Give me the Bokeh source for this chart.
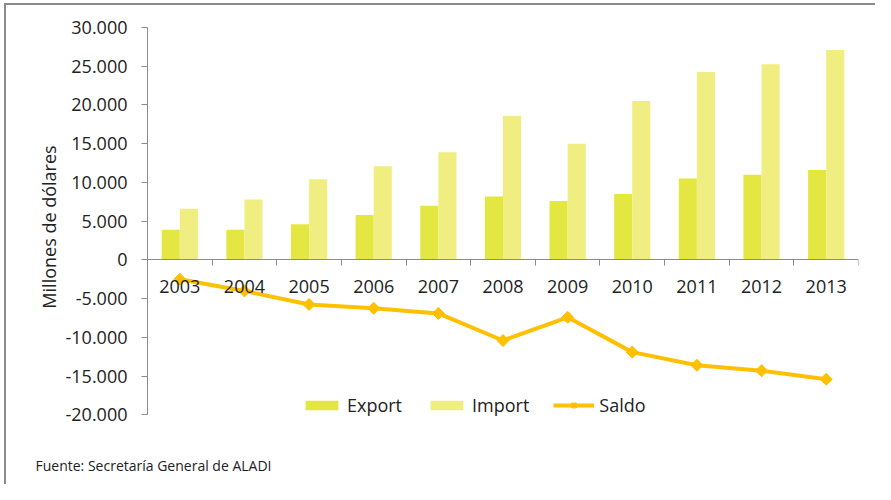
import numpy as np
from bokeh.plotting import figure
from bokeh.models import (Range1d, LinearAxis, FixedTicker, CustomJSTickFormatter,
                          Legend, LegendItem, Title, ColumnDataSource)
from bokeh.transform import dodge
from bokeh.embed import file_html
from bokeh.resources import INLINE

years = ["2003", "2004", "2005", "2006", "2007", "2008", "2009", "2010", "2011", "2012", "2013"]
export = [3900, 3900, 4600, 5800, 7000, 8200, 7600, 8500, 10500, 11000, 11600]
imports = [6600, 7800, 10400, 12100, 13900, 18600, 15000, 20500, 24250, 25250, 27100]
saldo = [-2500, -4000, -5750, -6250, -6900, -10400, -7400, -11900, -13600, -14300, -15400]
y_ticks = [-20000, -15000, -10000, -5000, 0, 5000, 10000, 15000, 20000, 25000, 30000]

FONT = "Open Sans"
TXT = "#222222"
AX = "#8c8c8c"
FS = "18px"

src = ColumnDataSource(dict(x=np.arange(len(years)) + 0.5, year=years,
                            export=export, imports=imports, saldo=saldo))

p = figure(width=875, height=484, x_range=Range1d(0, len(years)),
           y_range=Range1d(-21500, 30000), output_backend="svg",
           toolbar_location=None, x_axis_location=None, y_axis_location="left",
           min_border_left=147, min_border_right=17, min_border_top=27,
           min_border_bottom=58)
p.styles = {"background": "linear-gradient(#8c8c8c, #8c8c8c) 4px 3px / 2px 100% no-repeat, "
                          "linear-gradient(#8c8c8c, #8c8c8c) 4px 3px / 100% 2px no-repeat, #ffffff"}
p.border_fill_alpha = 0
p.outline_line_color = None
p.background_fill_color = "white"

yax = p.yaxis[0]
yax.ticker = FixedTicker(ticks=y_ticks)
yax.bounds = (-20000, 30000)
yax.formatter = CustomJSTickFormatter(code="""
const s = Math.abs(tick).toFixed(0).replace(/\\B(?=(\\d{3})+(?!\\d))/g, '.');
return (tick < 0 ? '-' : '') + s;
""")
yax.axis_line_color = AX
yax.major_tick_line_color = AX
yax.major_tick_out = 6
yax.major_tick_in = 0
yax.minor_tick_line_color = None
yax.major_label_text_font = FONT
yax.major_label_text_font_size = FS
yax.major_label_text_color = TXT
yax.major_label_standoff = 14
yax.axis_label = "Millones de dólares"
yax.axis_label_text_font = FONT
yax.axis_label_text_font_size = FS
yax.axis_label_text_font_style = "normal"
yax.axis_label_text_color = TXT
yax.axis_label_standoff = 2

# x axis line with boundary ticks at y = 0
xax1 = LinearAxis(fixed_location=0, ticker=FixedTicker(ticks=list(range(len(years) + 1))),
                  major_label_overrides={i: "" for i in range(len(years) + 1)},
                  axis_line_color=AX, major_tick_line_color=AX,
                  major_tick_out=6, major_tick_in=0, minor_tick_line_color=None)
p.add_layout(xax1, "below")
# category labels
centers = [i + 0.5 for i in range(len(years))]
xax2 = LinearAxis(fixed_location=0, ticker=FixedTicker(ticks=centers),
                  major_label_overrides={c: y for c, y in zip(centers, years)},
                  axis_line_color=None, major_tick_line_color=None,
                  minor_tick_line_color=None, major_label_standoff=14,
                  major_label_text_font=FONT, major_label_text_font_size=FS,
                  major_label_text_color=TXT)
p.add_layout(xax2, "below")

for g in p.grid:
    g.visible = False

r_exp = p.vbar(x=dodge("x", -0.14, range=p.x_range), top="export", bottom=0, width=0.28,
               source=src, fill_color="#E4E641", line_color=None)
r_imp = p.vbar(x=dodge("x", 0.14, range=p.x_range), top="imports", bottom=0, width=0.28,
               source=src, fill_color="#F0EE80", line_color=None)
r_line = p.line(x="x", y="saldo", source=src, line_color="#FFC000", line_width=4)
r_pts = p.scatter(x="x", y="saldo", source=src, marker="square", angle=np.pi / 4,
                  size=8.5, fill_color="#FFC000", line_color="#FFC000")

legend = Legend(items=[LegendItem(label="Export", renderers=[r_exp]),
                       LegendItem(label="Import", renderers=[r_imp]),
                       LegendItem(label="Saldo", renderers=[r_line, r_pts])],
                orientation="horizontal", location=(154, 9), glyph_width=41,
                glyph_height=12, label_standoff=5, spacing=24, padding=0, margin=0,
                border_line_color=None, background_fill_alpha=0,
                label_text_font=FONT, label_text_font_size=FS,
                label_text_color=TXT)
p.add_layout(legend, "center")

p.add_layout(Title(text="\nFuente: Secretaría General de ALADI", align="left", offset=-112,
                   standoff=17, text_font=FONT, text_font_size="14px",
                   text_font_style="normal", text_color=TXT), "below")

open("out.html", "w").write(file_html(p, INLINE))
